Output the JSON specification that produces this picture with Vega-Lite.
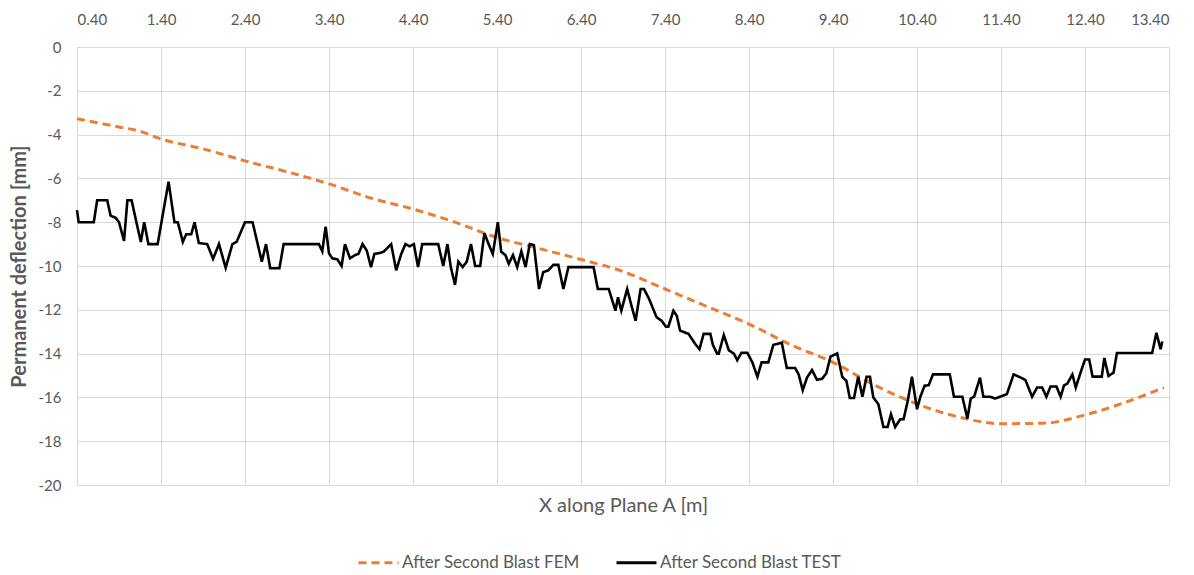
{
  "$schema": "https://vega.github.io/schema/vega-lite/v6.json",
  "width": 1092,
  "height": 438,
  "autosize": {"type": "none"},
  "padding": {"left": 77, "top": 47, "right": 25, "bottom": 90},
  "config": {
    "font": "Lato",
    "view": {"stroke": null},
    "axis": {"labelColor": "#595959", "titleColor": "#595959", "labelFontSize": 15, "titleFontSize": 20, "gridColor": "#d9d9d9", "gridWidth": 1, "domain": false, "ticks": false, "tickSize": 0},
    "legend": {"labelColor": "#595959", "labelFontSize": 17, "labelLimit": 400}
  },
  "datasets": {
    "fem": [
      {"x": 0.40, "y": -3.28, "s": "After Second Blast FEM"},
      {"x": 0.90, "y": -3.65, "s": "After Second Blast FEM"},
      {"x": 1.15, "y": -3.85, "s": "After Second Blast FEM"},
      {"x": 1.40, "y": -4.2, "s": "After Second Blast FEM"},
      {"x": 1.90, "y": -4.65, "s": "After Second Blast FEM"},
      {"x": 2.40, "y": -5.2, "s": "After Second Blast FEM"},
      {"x": 2.90, "y": -5.7, "s": "After Second Blast FEM"},
      {"x": 3.40, "y": -6.25, "s": "After Second Blast FEM"},
      {"x": 3.90, "y": -6.9, "s": "After Second Blast FEM"},
      {"x": 4.40, "y": -7.4, "s": "After Second Blast FEM"},
      {"x": 4.90, "y": -8.0, "s": "After Second Blast FEM"},
      {"x": 5.40, "y": -8.7, "s": "After Second Blast FEM"},
      {"x": 5.90, "y": -9.2, "s": "After Second Blast FEM"},
      {"x": 6.40, "y": -9.7, "s": "After Second Blast FEM"},
      {"x": 6.90, "y": -10.25, "s": "After Second Blast FEM"},
      {"x": 7.40, "y": -11.05, "s": "After Second Blast FEM"},
      {"x": 7.90, "y": -11.85, "s": "After Second Blast FEM"},
      {"x": 8.40, "y": -12.65, "s": "After Second Blast FEM"},
      {"x": 8.90, "y": -13.6, "s": "After Second Blast FEM"},
      {"x": 9.40, "y": -14.4, "s": "After Second Blast FEM"},
      {"x": 9.90, "y": -15.45, "s": "After Second Blast FEM"},
      {"x": 10.40, "y": -16.3, "s": "After Second Blast FEM"},
      {"x": 10.90, "y": -16.9, "s": "After Second Blast FEM"},
      {"x": 11.40, "y": -17.2, "s": "After Second Blast FEM"},
      {"x": 11.90, "y": -17.18, "s": "After Second Blast FEM"},
      {"x": 12.40, "y": -16.8, "s": "After Second Blast FEM"},
      {"x": 12.90, "y": -16.2, "s": "After Second Blast FEM"},
      {"x": 13.34, "y": -15.55, "s": "After Second Blast FEM"}
    ],
    "test": [
      {"x": 0.40, "y": -7.45, "s": "After Second Blast TEST"},
      {"x": 0.42, "y": -8.0, "s": "After Second Blast TEST"},
      {"x": 0.60, "y": -8.0, "s": "After Second Blast TEST"},
      {"x": 0.64, "y": -7.0, "s": "After Second Blast TEST"},
      {"x": 0.76, "y": -7.0, "s": "After Second Blast TEST"},
      {"x": 0.80, "y": -7.7, "s": "After Second Blast TEST"},
      {"x": 0.86, "y": -7.8, "s": "After Second Blast TEST"},
      {"x": 0.90, "y": -8.0, "s": "After Second Blast TEST"},
      {"x": 0.96, "y": -8.85, "s": "After Second Blast TEST"},
      {"x": 1.00, "y": -7.0, "s": "After Second Blast TEST"},
      {"x": 1.05, "y": -7.0, "s": "After Second Blast TEST"},
      {"x": 1.11, "y": -8.05, "s": "After Second Blast TEST"},
      {"x": 1.16, "y": -8.9, "s": "After Second Blast TEST"},
      {"x": 1.20, "y": -8.0, "s": "After Second Blast TEST"},
      {"x": 1.25, "y": -9.0, "s": "After Second Blast TEST"},
      {"x": 1.36, "y": -9.0, "s": "After Second Blast TEST"},
      {"x": 1.49, "y": -6.15, "s": "After Second Blast TEST"},
      {"x": 1.56, "y": -8.0, "s": "After Second Blast TEST"},
      {"x": 1.60, "y": -8.0, "s": "After Second Blast TEST"},
      {"x": 1.66, "y": -8.9, "s": "After Second Blast TEST"},
      {"x": 1.70, "y": -8.55, "s": "After Second Blast TEST"},
      {"x": 1.76, "y": -8.55, "s": "After Second Blast TEST"},
      {"x": 1.80, "y": -8.0, "s": "After Second Blast TEST"},
      {"x": 1.85, "y": -8.95, "s": "After Second Blast TEST"},
      {"x": 1.95, "y": -9.0, "s": "After Second Blast TEST"},
      {"x": 2.02, "y": -9.67, "s": "After Second Blast TEST"},
      {"x": 2.09, "y": -9.0, "s": "After Second Blast TEST"},
      {"x": 2.17, "y": -10.08, "s": "After Second Blast TEST"},
      {"x": 2.25, "y": -9.0, "s": "After Second Blast TEST"},
      {"x": 2.30, "y": -8.9, "s": "After Second Blast TEST"},
      {"x": 2.40, "y": -8.0, "s": "After Second Blast TEST"},
      {"x": 2.49, "y": -8.0, "s": "After Second Blast TEST"},
      {"x": 2.60, "y": -9.8, "s": "After Second Blast TEST"},
      {"x": 2.65, "y": -9.0, "s": "After Second Blast TEST"},
      {"x": 2.70, "y": -10.1, "s": "After Second Blast TEST"},
      {"x": 2.81, "y": -10.1, "s": "After Second Blast TEST"},
      {"x": 2.86, "y": -9.0, "s": "After Second Blast TEST"},
      {"x": 3.28, "y": -9.0, "s": "After Second Blast TEST"},
      {"x": 3.32, "y": -9.33, "s": "After Second Blast TEST"},
      {"x": 3.36, "y": -8.2, "s": "After Second Blast TEST"},
      {"x": 3.40, "y": -9.43, "s": "After Second Blast TEST"},
      {"x": 3.44, "y": -9.65, "s": "After Second Blast TEST"},
      {"x": 3.50, "y": -9.7, "s": "After Second Blast TEST"},
      {"x": 3.55, "y": -10.0, "s": "After Second Blast TEST"},
      {"x": 3.59, "y": -9.0, "s": "After Second Blast TEST"},
      {"x": 3.65, "y": -9.65, "s": "After Second Blast TEST"},
      {"x": 3.71, "y": -9.5, "s": "After Second Blast TEST"},
      {"x": 3.75, "y": -9.45, "s": "After Second Blast TEST"},
      {"x": 3.80, "y": -9.0, "s": "After Second Blast TEST"},
      {"x": 3.85, "y": -9.3, "s": "After Second Blast TEST"},
      {"x": 3.90, "y": -10.05, "s": "After Second Blast TEST"},
      {"x": 3.94, "y": -9.45, "s": "After Second Blast TEST"},
      {"x": 4.01, "y": -9.4, "s": "After Second Blast TEST"},
      {"x": 4.05, "y": -9.35, "s": "After Second Blast TEST"},
      {"x": 4.14, "y": -9.0, "s": "After Second Blast TEST"},
      {"x": 4.20, "y": -10.2, "s": "After Second Blast TEST"},
      {"x": 4.26, "y": -9.45, "s": "After Second Blast TEST"},
      {"x": 4.31, "y": -9.0, "s": "After Second Blast TEST"},
      {"x": 4.36, "y": -9.1, "s": "After Second Blast TEST"},
      {"x": 4.41, "y": -9.0, "s": "After Second Blast TEST"},
      {"x": 4.46, "y": -10.05, "s": "After Second Blast TEST"},
      {"x": 4.51, "y": -9.0, "s": "After Second Blast TEST"},
      {"x": 4.70, "y": -9.0, "s": "After Second Blast TEST"},
      {"x": 4.76, "y": -10.0, "s": "After Second Blast TEST"},
      {"x": 4.81, "y": -9.0, "s": "After Second Blast TEST"},
      {"x": 4.85, "y": -10.05, "s": "After Second Blast TEST"},
      {"x": 4.90, "y": -10.86, "s": "After Second Blast TEST"},
      {"x": 4.94, "y": -9.8, "s": "After Second Blast TEST"},
      {"x": 4.99, "y": -10.05, "s": "After Second Blast TEST"},
      {"x": 5.04, "y": -9.8, "s": "After Second Blast TEST"},
      {"x": 5.09, "y": -9.0, "s": "After Second Blast TEST"},
      {"x": 5.14, "y": -10.0, "s": "After Second Blast TEST"},
      {"x": 5.20, "y": -10.0, "s": "After Second Blast TEST"},
      {"x": 5.25, "y": -8.5, "s": "After Second Blast TEST"},
      {"x": 5.30, "y": -9.0, "s": "After Second Blast TEST"},
      {"x": 5.35, "y": -9.45, "s": "After Second Blast TEST"},
      {"x": 5.41, "y": -8.0, "s": "After Second Blast TEST"},
      {"x": 5.45, "y": -9.35, "s": "After Second Blast TEST"},
      {"x": 5.50, "y": -9.5, "s": "After Second Blast TEST"},
      {"x": 5.54, "y": -9.9, "s": "After Second Blast TEST"},
      {"x": 5.59, "y": -9.5, "s": "After Second Blast TEST"},
      {"x": 5.64, "y": -10.05, "s": "After Second Blast TEST"},
      {"x": 5.69, "y": -9.33, "s": "After Second Blast TEST"},
      {"x": 5.74, "y": -10.05, "s": "After Second Blast TEST"},
      {"x": 5.79, "y": -9.0, "s": "After Second Blast TEST"},
      {"x": 5.84, "y": -9.05, "s": "After Second Blast TEST"},
      {"x": 5.90, "y": -11.05, "s": "After Second Blast TEST"},
      {"x": 5.95, "y": -10.28, "s": "After Second Blast TEST"},
      {"x": 6.01, "y": -10.2, "s": "After Second Blast TEST"},
      {"x": 6.07, "y": -9.95, "s": "After Second Blast TEST"},
      {"x": 6.13, "y": -9.95, "s": "After Second Blast TEST"},
      {"x": 6.19, "y": -11.05, "s": "After Second Blast TEST"},
      {"x": 6.25, "y": -10.05, "s": "After Second Blast TEST"},
      {"x": 6.55, "y": -10.05, "s": "After Second Blast TEST"},
      {"x": 6.60, "y": -11.05, "s": "After Second Blast TEST"},
      {"x": 6.73, "y": -11.05, "s": "After Second Blast TEST"},
      {"x": 6.81, "y": -12.04, "s": "After Second Blast TEST"},
      {"x": 6.84, "y": -11.43, "s": "After Second Blast TEST"},
      {"x": 6.88, "y": -12.04, "s": "After Second Blast TEST"},
      {"x": 6.95, "y": -11.05, "s": "After Second Blast TEST"},
      {"x": 7.00, "y": -11.8, "s": "After Second Blast TEST"},
      {"x": 7.05, "y": -12.5, "s": "After Second Blast TEST"},
      {"x": 7.11, "y": -11.05, "s": "After Second Blast TEST"},
      {"x": 7.15, "y": -11.05, "s": "After Second Blast TEST"},
      {"x": 7.21, "y": -11.5, "s": "After Second Blast TEST"},
      {"x": 7.30, "y": -12.34, "s": "After Second Blast TEST"},
      {"x": 7.36, "y": -12.5, "s": "After Second Blast TEST"},
      {"x": 7.41, "y": -12.77, "s": "After Second Blast TEST"},
      {"x": 7.44, "y": -12.77, "s": "After Second Blast TEST"},
      {"x": 7.50, "y": -12.04, "s": "After Second Blast TEST"},
      {"x": 7.54, "y": -12.27, "s": "After Second Blast TEST"},
      {"x": 7.58, "y": -12.95, "s": "After Second Blast TEST"},
      {"x": 7.68, "y": -13.1, "s": "After Second Blast TEST"},
      {"x": 7.76, "y": -13.56, "s": "After Second Blast TEST"},
      {"x": 7.81, "y": -13.8, "s": "After Second Blast TEST"},
      {"x": 7.86, "y": -13.1, "s": "After Second Blast TEST"},
      {"x": 7.94, "y": -13.1, "s": "After Second Blast TEST"},
      {"x": 7.97, "y": -13.6, "s": "After Second Blast TEST"},
      {"x": 8.02, "y": -14.0, "s": "After Second Blast TEST"},
      {"x": 8.04, "y": -14.0, "s": "After Second Blast TEST"},
      {"x": 8.10, "y": -13.15, "s": "After Second Blast TEST"},
      {"x": 8.16, "y": -13.85, "s": "After Second Blast TEST"},
      {"x": 8.22, "y": -14.0, "s": "After Second Blast TEST"},
      {"x": 8.26, "y": -14.3, "s": "After Second Blast TEST"},
      {"x": 8.31, "y": -13.96, "s": "After Second Blast TEST"},
      {"x": 8.38, "y": -13.96, "s": "After Second Blast TEST"},
      {"x": 8.44, "y": -14.4, "s": "After Second Blast TEST"},
      {"x": 8.50, "y": -15.06, "s": "After Second Blast TEST"},
      {"x": 8.55, "y": -14.4, "s": "After Second Blast TEST"},
      {"x": 8.63, "y": -14.4, "s": "After Second Blast TEST"},
      {"x": 8.69, "y": -13.6, "s": "After Second Blast TEST"},
      {"x": 8.79, "y": -13.5, "s": "After Second Blast TEST"},
      {"x": 8.85, "y": -14.66, "s": "After Second Blast TEST"},
      {"x": 8.95, "y": -14.66, "s": "After Second Blast TEST"},
      {"x": 8.99, "y": -14.94, "s": "After Second Blast TEST"},
      {"x": 9.04, "y": -15.67, "s": "After Second Blast TEST"},
      {"x": 9.09, "y": -15.1, "s": "After Second Blast TEST"},
      {"x": 9.15, "y": -14.75, "s": "After Second Blast TEST"},
      {"x": 9.21, "y": -15.2, "s": "After Second Blast TEST"},
      {"x": 9.27, "y": -15.15, "s": "After Second Blast TEST"},
      {"x": 9.32, "y": -14.9, "s": "After Second Blast TEST"},
      {"x": 9.37, "y": -14.14, "s": "After Second Blast TEST"},
      {"x": 9.45, "y": -13.99, "s": "After Second Blast TEST"},
      {"x": 9.51, "y": -15.06, "s": "After Second Blast TEST"},
      {"x": 9.56, "y": -15.25, "s": "After Second Blast TEST"},
      {"x": 9.60, "y": -16.03, "s": "After Second Blast TEST"},
      {"x": 9.65, "y": -16.03, "s": "After Second Blast TEST"},
      {"x": 9.70, "y": -15.06, "s": "After Second Blast TEST"},
      {"x": 9.75, "y": -15.97, "s": "After Second Blast TEST"},
      {"x": 9.80, "y": -15.06, "s": "After Second Blast TEST"},
      {"x": 9.84, "y": -15.06, "s": "After Second Blast TEST"},
      {"x": 9.88, "y": -16.0, "s": "After Second Blast TEST"},
      {"x": 9.94, "y": -16.31, "s": "After Second Blast TEST"},
      {"x": 10.00, "y": -17.35, "s": "After Second Blast TEST"},
      {"x": 10.05, "y": -17.35, "s": "After Second Blast TEST"},
      {"x": 10.09, "y": -16.77, "s": "After Second Blast TEST"},
      {"x": 10.14, "y": -17.35, "s": "After Second Blast TEST"},
      {"x": 10.20, "y": -17.0, "s": "After Second Blast TEST"},
      {"x": 10.24, "y": -17.0, "s": "After Second Blast TEST"},
      {"x": 10.29, "y": -16.16, "s": "After Second Blast TEST"},
      {"x": 10.34, "y": -15.06, "s": "After Second Blast TEST"},
      {"x": 10.40, "y": -16.54, "s": "After Second Blast TEST"},
      {"x": 10.44, "y": -15.97, "s": "After Second Blast TEST"},
      {"x": 10.49, "y": -15.47, "s": "After Second Blast TEST"},
      {"x": 10.54, "y": -15.44, "s": "After Second Blast TEST"},
      {"x": 10.59, "y": -14.95, "s": "After Second Blast TEST"},
      {"x": 10.79, "y": -14.95, "s": "After Second Blast TEST"},
      {"x": 10.84, "y": -15.97, "s": "After Second Blast TEST"},
      {"x": 10.94, "y": -15.97, "s": "After Second Blast TEST"},
      {"x": 11.00, "y": -16.97, "s": "After Second Blast TEST"},
      {"x": 11.04, "y": -16.05, "s": "After Second Blast TEST"},
      {"x": 11.08, "y": -15.97, "s": "After Second Blast TEST"},
      {"x": 11.15, "y": -15.1, "s": "After Second Blast TEST"},
      {"x": 11.19, "y": -15.97, "s": "After Second Blast TEST"},
      {"x": 11.27, "y": -15.97, "s": "After Second Blast TEST"},
      {"x": 11.33, "y": -16.05, "s": "After Second Blast TEST"},
      {"x": 11.39, "y": -15.97, "s": "After Second Blast TEST"},
      {"x": 11.47, "y": -15.85, "s": "After Second Blast TEST"},
      {"x": 11.55, "y": -14.95, "s": "After Second Blast TEST"},
      {"x": 11.61, "y": -15.05, "s": "After Second Blast TEST"},
      {"x": 11.69, "y": -15.2, "s": "After Second Blast TEST"},
      {"x": 11.77, "y": -15.97, "s": "After Second Blast TEST"},
      {"x": 11.83, "y": -15.55, "s": "After Second Blast TEST"},
      {"x": 11.89, "y": -15.55, "s": "After Second Blast TEST"},
      {"x": 11.94, "y": -15.97, "s": "After Second Blast TEST"},
      {"x": 11.99, "y": -15.5, "s": "After Second Blast TEST"},
      {"x": 12.06, "y": -15.5, "s": "After Second Blast TEST"},
      {"x": 12.11, "y": -15.97, "s": "After Second Blast TEST"},
      {"x": 12.15, "y": -15.45, "s": "After Second Blast TEST"},
      {"x": 12.19, "y": -15.37, "s": "After Second Blast TEST"},
      {"x": 12.25, "y": -14.95, "s": "After Second Blast TEST"},
      {"x": 12.29, "y": -15.55, "s": "After Second Blast TEST"},
      {"x": 12.34, "y": -14.95, "s": "After Second Blast TEST"},
      {"x": 12.40, "y": -14.27, "s": "After Second Blast TEST"},
      {"x": 12.45, "y": -14.27, "s": "After Second Blast TEST"},
      {"x": 12.49, "y": -15.05, "s": "After Second Blast TEST"},
      {"x": 12.60, "y": -15.05, "s": "After Second Blast TEST"},
      {"x": 12.63, "y": -14.2, "s": "After Second Blast TEST"},
      {"x": 12.68, "y": -15.02, "s": "After Second Blast TEST"},
      {"x": 12.74, "y": -14.87, "s": "After Second Blast TEST"},
      {"x": 12.78, "y": -13.97, "s": "After Second Blast TEST"},
      {"x": 13.20, "y": -13.97, "s": "After Second Blast TEST"},
      {"x": 13.25, "y": -13.05, "s": "After Second Blast TEST"},
      {"x": 13.30, "y": -13.8, "s": "After Second Blast TEST"},
      {"x": 13.32, "y": -13.45, "s": "After Second Blast TEST"}
    ]
  },
  "encoding": {
    "y": {
      "field": "y",
      "type": "quantitative",
      "scale": {"domain": [-20, 0], "nice": false, "zero": false},
      "axis": {
        "values": [0, -2, -4, -6, -8, -10, -12, -14, -16, -18, -20],
        "title": "Permanent deflection [mm]",
        "titleFontWeight": "bold",
        "labelPadding": 16,
        "titlePadding": 9,
        "grid": true,
        "labelExpr": "datum.value == 0 ? '0' : '-' + abs(datum.value)"
      }
    },
    "color": {
      "field": "s",
      "type": "nominal",
      "scale": {"domain": ["After Second Blast FEM", "After Second Blast TEST"], "range": ["#ED7D31", "#000000"]},
      "legend": {"title": null, "orient": "none", "legendX": 280, "legendY": 494, "direction": "horizontal", "symbolType": "stroke", "symbolSize": 1600, "symbolStrokeWidth": 3, "labelOffset": 2, "columnPadding": 30}
    },
    "strokeDash": {
      "field": "s",
      "type": "nominal",
      "scale": {"domain": ["After Second Blast FEM", "After Second Blast TEST"], "range": [[8, 5], [1, 0]]},
      "legend": {"title": null, "orient": "none", "legendX": 280, "legendY": 494, "direction": "horizontal", "symbolType": "stroke", "symbolSize": 1600, "symbolStrokeWidth": 3, "labelOffset": 2, "columnPadding": 30}
    }
  },
  "layer": [
    {
      "data": {"name": "fem"},
      "mark": {"type": "line", "strokeWidth": 3, "interpolate": "monotone"},
      "encoding": {
        "x": {
          "field": "x",
          "type": "quantitative",
          "scale": {"domain": [0.4, 13.4], "nice": false, "zero": false},
          "axis": {"orient": "top", "values": [0.4, 1.4, 2.4, 3.4, 4.4, 5.4, 6.4, 7.4, 8.4, 9.4, 10.4, 11.4, 12.4, 13.4], "format": ".2f", "labelPadding": 20, "title": null, "grid": true}
        }
      }
    },
    {
      "data": {"name": "test"},
      "mark": {"type": "line", "strokeWidth": 2.6},
      "encoding": {
        "x": {
          "field": "x",
          "type": "quantitative",
          "axis": {"orient": "bottom", "labels": false, "grid": false, "title": "X along Plane A [m]", "titlePadding": 10, "titleFontWeight": "normal"}
        }
      }
    }
  ],
  "resolve": {"axis": {"x": "independent"}}
}
